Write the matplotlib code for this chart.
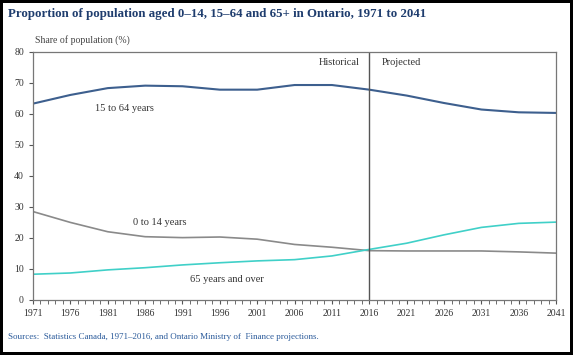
import matplotlib
matplotlib.use("Agg")
from matplotlib import pyplot as plt
from matplotlib.ticker import MultipleLocator

years = [1971, 1976, 1981, 1986, 1991, 1996, 2001, 2006, 2011, 2016,
         2021, 2026, 2031, 2036, 2041]
age_15_64 = [63.3, 66.1, 68.3, 69.1, 68.9, 67.8, 67.8, 69.3, 69.3, 67.8,
             65.9, 63.5, 61.4, 60.5, 60.3]
age_0_14 = [28.5, 25.0, 22.0, 20.4, 20.1, 20.3, 19.6, 17.9, 17.0, 15.9,
            15.8, 15.8, 15.8, 15.5, 15.1]
age_65_plus = [8.3, 8.7, 9.7, 10.4, 11.3, 12.0, 12.6, 13.0, 14.2, 16.3,
               18.3, 21.0, 23.4, 24.7, 25.1]
tick_years = list(range(1971, 2042, 5))
split_year = 2016

plt.rcParams["font.family"] = ["Liberation Serif", "DejaVu Serif"]

fig = plt.figure(figsize=(5.73, 3.55), dpi=100)
fig.patch.set_edgecolor("black")
fig.patch.set_linewidth(3)
ax = fig.add_axes([0.0576, 0.155, 0.913, 0.699])

ax.plot(years, age_15_64, color="#3d5f8e", linewidth=1.5)
ax.plot(years, age_0_14, color="#8a8a8a", linewidth=1.2)
ax.plot(years, age_65_plus, color="#40d0c8", linewidth=1.2)
ax.axvline(split_year, color="#555555", linewidth=1.0)

ax.set_xlim(1971, 2041)
ax.set_ylim(0, 80)
ax.set_xticks(tick_years)
ax.xaxis.set_minor_locator(MultipleLocator(1))
ax.yaxis.set_major_locator(MultipleLocator(10))
ax.tick_params(axis="both", which="major", labelsize=7, colors="#555555",
               labelcolor="#333333", length=3, width=0.8)
ax.tick_params(axis="x", which="minor", length=3, width=0.6, colors="#555555")
for side in ax.spines.values():
    side.set_color("#777777")
    side.set_linewidth(0.9)

ax.text(1983.3, 61.8, "15 to 64 years", fontsize=7.5, ha="center", va="center",
        color="#333333")
ax.text(1987.9, 25.1, "0 to 14 years", fontsize=7.5, ha="center", va="center",
        color="#333333")
ax.text(1996.9, 6.5, "65 years and over", fontsize=7.5, ha="center", va="center",
        color="#333333")
ax.text(split_year - 1.3, 76.4, "Historical", fontsize=7.5, ha="right",
        va="center", color="#333333")
ax.text(split_year + 1.6, 76.4, "Projected", fontsize=7.5, ha="left",
        va="center", color="#333333")

fig.text(8 / 573, 1 - 14 / 355, "Proportion of population aged 0\u201314, 15\u201364 and 65+ in Ontario, 1971 to 2041",
         fontsize=9.3, fontweight="bold", color="#1f3d6e", ha="left", va="center")
fig.text(35 / 573, 1 - 40 / 355, "Share of population (%)", fontsize=7,
         color="#444444", ha="left", va="center")
fig.text(8 / 573, 1 - 337 / 355,
         "Sources:  Statistics Canada, 1971\u20132016, and Ontario Ministry of  Finance projections.",
         fontsize=6.5, color="#2a5a9a", ha="left", va="center")

fig.savefig("out.png", dpi=100, edgecolor=fig.get_edgecolor())
